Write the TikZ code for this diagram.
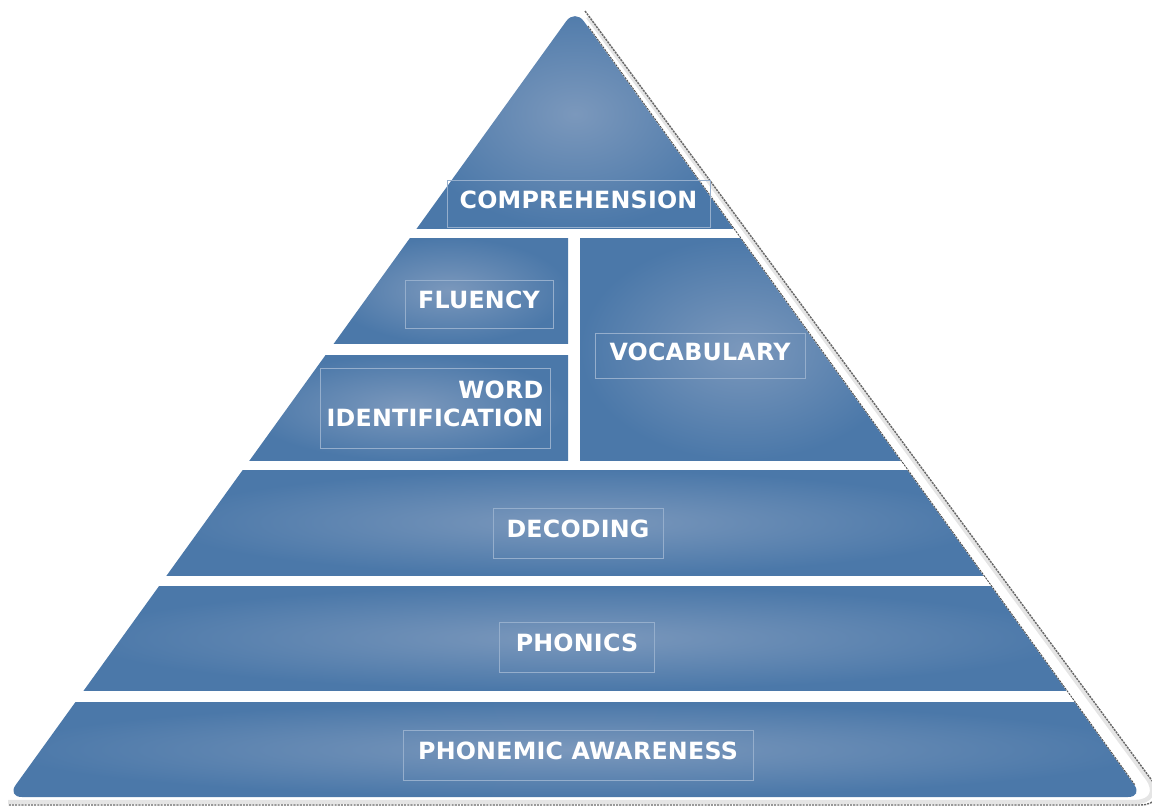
\documentclass[tikz,border=0pt]{standalone}
\usepackage{fontspec}
\newfontfamily\pyrfont[LetterSpace=1]{DejaVu Sans}
\definecolor{banddark}{HTML}{4B78A9}
\definecolor{bandlight}{HTML}{7B98BC}
\definecolor{boxline}{HTML}{95AECC}
\begin{document}
\begin{tikzpicture}[
          x=0.02cm, y=-0.02cm,
          band/.style={inner color=bandlight, outer color=banddark},
          tag/.style={draw=boxline, line width=0.5pt, text=white, inner sep=0pt,
            text depth=0.16cm, font=\pyrfont\fontsize{13.5}{16}\selectfont\bfseries},
          rim/.style={draw=black!60, line width=0.8pt, dash pattern=on 1.2pt off 0.6pt}
        ]
        \useasboundingbox (0,0) rectangle (1152,808);
        % outer rim
        \draw[gray!20, line width=2.5pt, rounded corners=0.6cm] (588,17) -- (1165,802) -- (8,802);
        \draw[rim, rounded corners=0.6cm] (585,11) -- (1170,805) -- (8,805);
        % bands
        \begin{scope}
          \clip[rounded corners=0.3cm] (575,9) -- (1143,797) -- (7,797) -- cycle;
          \shade[band] (410,0) rectangle (740,228);
          \shade[band] (330,238) rectangle (568,343);
          \shade[band] (246,355) rectangle (568,460);
          \shade[band] (580,238) rectangle (904,460);
          \shade[band] (163,470) rectangle (987,575);
          \shade[band] (80,586) rectangle (1070,690);
          \shade[band] (3,702) rectangle (1149,797);
        \end{scope}
        \draw[rim, black!70, line width=0.5pt] (588,26) -- (1135,785);
        % labels
        \node[tag, minimum width=5.26cm, minimum height=0.94cm] (comprehension) at (578.5,203.5) {COMPREHENSION};
        \node[tag, minimum width=2.96cm, minimum height=0.96cm] (fluency) at (479,304) {FLUENCY};
        \node[tag, minimum width=4.6cm, minimum height=1.6cm, align=right] (wordid) at (435,408) {WORD\\IDENTIFICATION};
        \node[tag, minimum width=4.2cm, minimum height=0.9cm] (vocabulary) at (700,355.5) {VOCABULARY};
        \node[tag, minimum width=3.4cm, minimum height=1cm] (decoding) at (578,533) {DECODING};
        \node[tag, minimum width=3.1cm, minimum height=1cm] (phonics) at (577,647) {PHONICS};
        \node[tag, minimum width=7cm, minimum height=1cm] (phonemic) at (578,755) {PHONEMIC AWARENESS};
\end{tikzpicture}
\end{document}
